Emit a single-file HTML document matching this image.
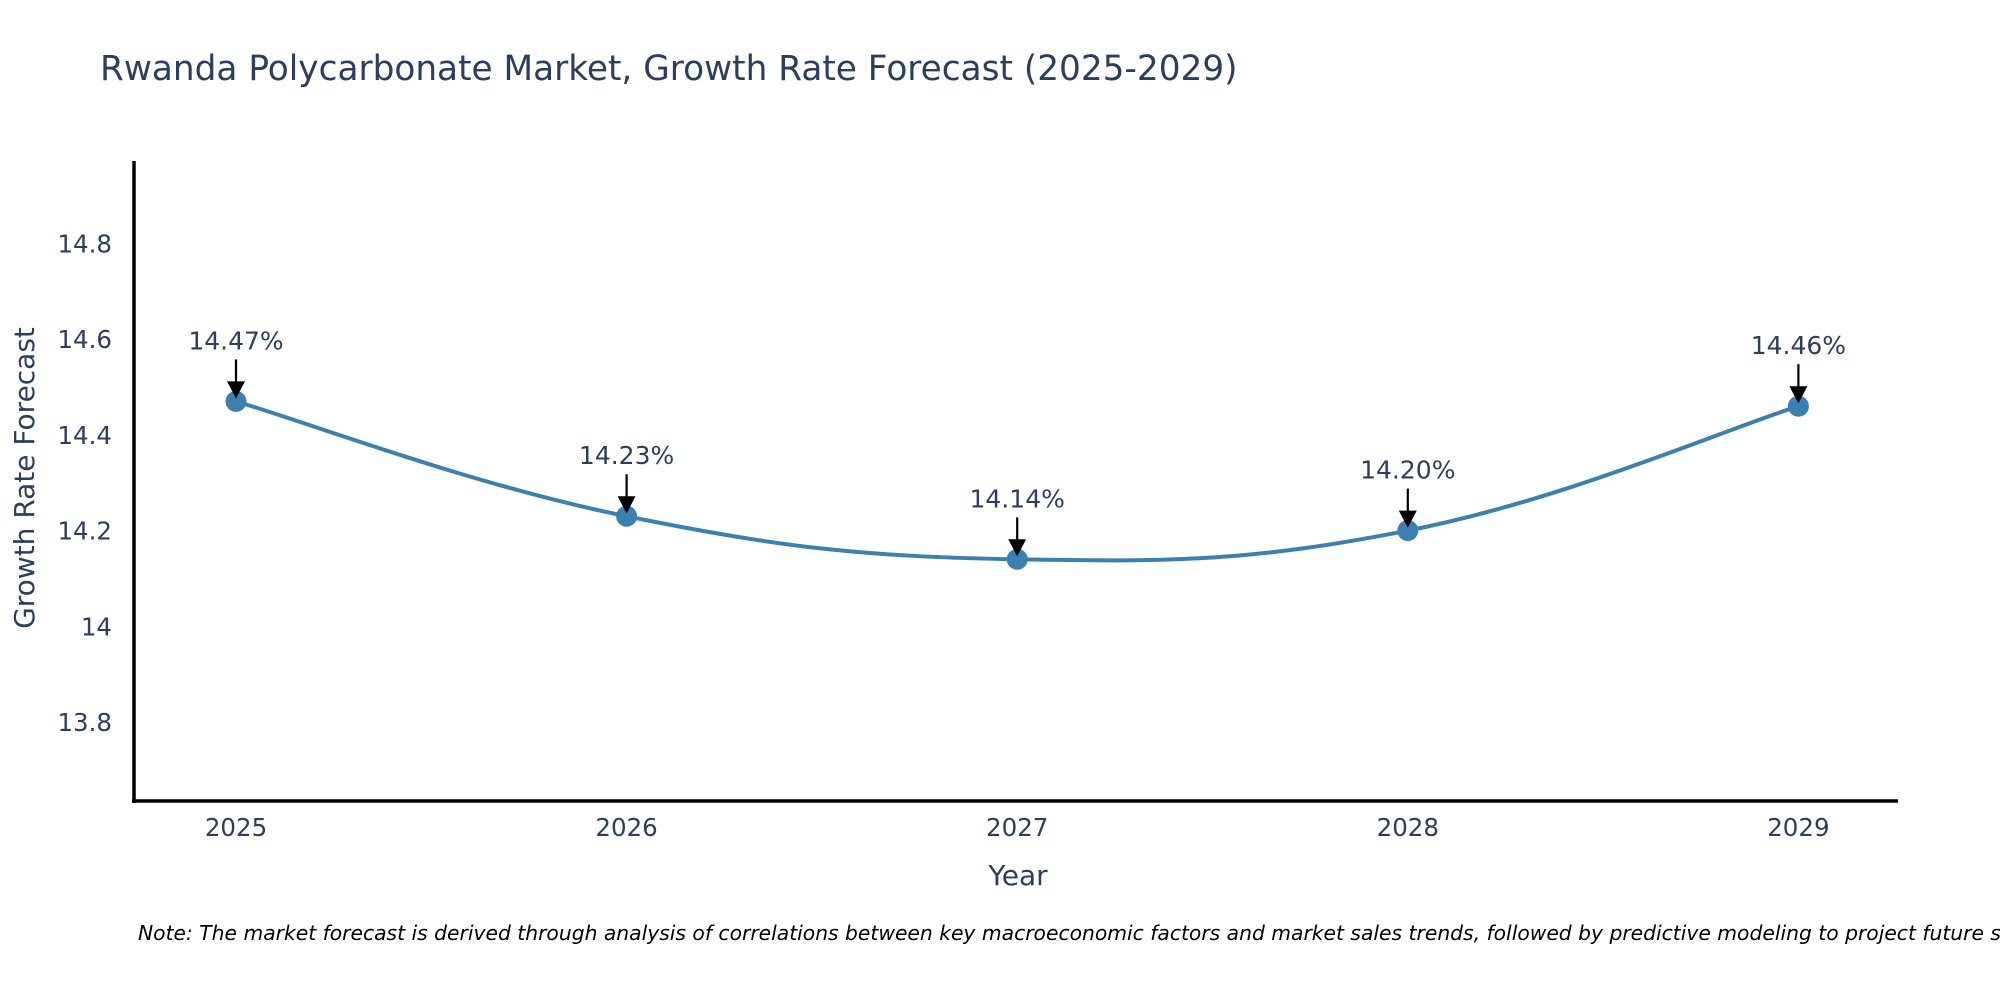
<!DOCTYPE html>
<html><head><meta charset="utf-8"><style>
body{margin:0;background:#fff;}
svg text{font-family:"DejaVu Sans","Liberation Sans",sans-serif;fill:#2a3f5f;}
</style></head><body>
<svg width="2000" height="1000" viewBox="0 0 2000 1000">
<text x="100" y="80" font-size="34.3">Rwanda Polycarbonate Market, Growth Rate Forecast (2025-2029)</text>
<g id="yticks"></g><g id="xticks"></g>
<line x1="134" y1="161" x2="134" y2="803" stroke="#000" stroke-width="3.5"/>
<line x1="132" y1="801" x2="1898" y2="801" stroke="#000" stroke-width="3.5"/>
<path id="line" fill="none" stroke="#3c7fb1" stroke-width="4"/>
<g id="marks"></g>
<text transform="translate(34,478) rotate(-90)" text-anchor="middle" font-size="28">Growth Rate Forecast</text>
<text x="1018" y="885" text-anchor="middle" font-size="28">Year</text>
<text x="138" y="940" font-size="20.3" font-style="italic" style="fill:#000">Note: The market forecast is derived through analysis of correlations between key macroeconomic factors and market sales trends, followed by predictive modeling to project future sales</text>
</svg>
<script>
const years=[2025,2026,2027,2028,2029];
const values=[14.47,14.23,14.14,14.20,14.46];
const labels=["14.47%","14.23%","14.14%","14.20%","14.46%"];
const yTicks=[13.8,14,14.2,14.4,14.6,14.8];
const yTickLabels=["13.8","14","14.2","14.4","14.6","14.8"];
const NS="http://www.w3.org/2000/svg";
const X=v=>236+(v-2025)*390.6;
const Y=v=>626.3-(v-14)*478.5;
function mk(t,a,p){const e=document.createElementNS(NS,t);for(const k in a)e.setAttribute(k,a[k]);p.appendChild(e);return e;}
const yt=document.getElementById('yticks');
yTicks.forEach((t,i)=>{const e=mk('text',{x:112,y:Y(t)+9,'text-anchor':'end','font-size':24.5},yt);


e.textContent=yTickLabels[i];});
const xt=document.getElementById('xticks');
years.forEach(y=>{const e=mk('text',{x:X(y),y:836,'text-anchor':'middle','font-size':24.5},xt);


e.textContent=y;});
const pts=years.map((y,i)=>[X(y),Y(values[i])]);
let d=`M${pts[0][0]},${pts[0][1]}`;const s=0.2;
for(let i=0;i<pts.length-1;i++){const p0=pts[i-1]||pts[i],p1=pts[i],p2=pts[i+1],p3=pts[i+2]||p2;
d+=` C${p1[0]+(p2[0]-p0[0])*s},${p1[1]+(p2[1]-p0[1])*s} ${p2[0]-(p3[0]-p1[0])*s},${p2[1]-(p3[1]-p1[1])*s} ${p2[0]},${p2[1]}`;}
document.getElementById('line').setAttribute('d',d);
const m=document.getElementById('marks');
pts.forEach((p,i)=>{const c=mk('circle',{cx:p[0],cy:p[1],r:10.5,fill:'#3c7fb1'},m);


const l=mk('line',{x1:p[0],y1:p[1]-42,x2:p[0],y2:p[1]-16,stroke:'#000','stroke-width':2.2},m);


const h=mk('polygon',{points:`${p[0]-9},${p[1]-20} ${p[0]+9},${p[1]-20} ${p[0]},${p[1]-3}`,fill:'#000'},m);


const t=mk('text',{x:p[0],y:p[1]-52,'text-anchor':'middle','font-size':25},m);


t.textContent=labels[i];});
</script>
</body></html>
